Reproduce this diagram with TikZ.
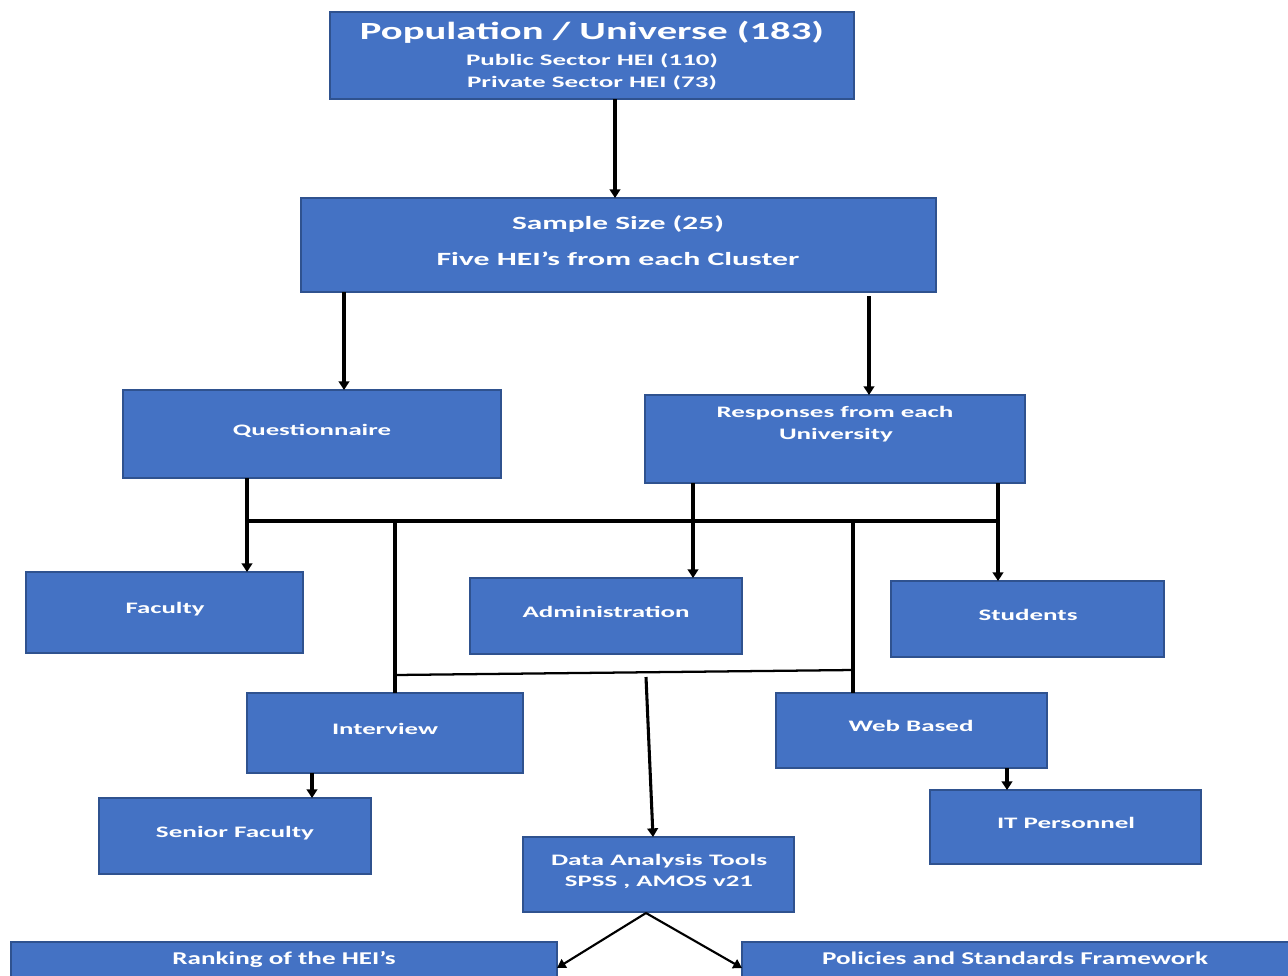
\documentclass[tikz,border=0pt]{standalone}
\usepackage{fontspec}
\setmainfont{Carlito}
\usepackage{graphicx}
\usetikzlibrary{arrows.meta,calc}
\definecolor{boxblue}{HTML}{4472C4}
\definecolor{boxedge}{HTML}{2F528F}
\newdimen\px \px=0.75pt
\newcommand\W[2]{\resizebox{#1\px}{\height}{#2}}
\newcommand\bx[5]{\node[box,minimum width={(#4-#2)*0.75pt},minimum height={(#5-#3)*0.75pt}] (#1) at ({(#2+#4)/2},{(#3+#5)/2}) {};}
\tikzset{
  box/.style={draw=boxedge, fill=boxblue, line width=0.8pt, inner sep=0pt, outer sep=0pt},
  lbl/.style={text=white, inner sep=0pt, outer sep=0pt, text height=0.64em, text depth=0pt, yshift=-1.5pt, font=\bfseries\fontsize{#1}{#1}\selectfont},
  arr/.style={line width=2.3pt, -{Triangle[width=8pt,length=6.5pt]}},
  thinarr/.style={line width=1.6pt, -{Triangle[width=7.5pt,length=6.5pt]}},
  bus/.style={line width=2.5pt},
  slant/.style={line width=1.7pt}
}
\begin{document}
\begin{tikzpicture}[x=0.75pt,y=-0.75pt]
\clip (0,0) rectangle (1288,975);
\useasboundingbox (0,0) rectangle (1288,975);
% boxes
\bx{pop}{330}{12}{854}{99}
\bx{samp}{301}{198}{936}{292}
\bx{q}{123}{390}{501}{478}
\bx{resp}{645}{395}{1025}{483}
\bx{fac}{26}{572}{303}{653}
\bx{adm}{470}{578}{742}{654}
\bx{stu}{891}{581}{1164}{657}
\bx{int}{247}{693}{523}{773}
\bx{web}{776}{693}{1047}{768}
\bx{sen}{99}{798}{371}{874}
\bx{itp}{930}{790}{1201}{864}
\bx{da}{523}{837}{794}{912}
\bx{rank}{11}{942}{557}{1000}
\bx{pol}{742}{942}{1300}{1000}
% texts
\node[lbl=18.5] (t1) at (592,33) {\W{464}{Population / Universe (183)}};
\node[lbl=12] (t2) at (592,59.5) {\W{252}{Public Sector HEI (110)}};
\node[lbl=12] (t3) at (592,81.5) {\W{250}{Private Sector HEI (73)}};
\node[lbl=14] (t4) at (618,223.5) {\W{212}{Sample Size (25)}};
\node[lbl=14] (t5) at (618,259.5) {\W{363}{Five HEI’s from each Cluster}};
\node[lbl=12] (t6) at (312,429.5) {\W{158}{Questionnaire}};
\node[lbl=12] (t7) at (835,411.5) {\W{237}{Responses from each}};
\node[lbl=12] (t8) at (836,433.5) {\W{114}{University}};
\node[lbl=12] (t9) at (165,607.5) {\W{79}{Faculty}};
\node[lbl=12] (t10) at (606,611.5) {\W{167}{Administration}};
\node[lbl=12] (t11) at (1028,614.5) {\W{99}{Students}};
\node[lbl=12] (t12) at (385,728.5) {\W{106}{Interview}};
\node[lbl=12] (t13) at (911,725.5) {\W{125}{Web Based}};
\node[lbl=12] (t14) at (235,831.5) {\W{158}{Senior Faculty}};
\node[lbl=12] (t15) at (1066,822.5) {\W{138}{IT Personnel}};
\node[lbl=12] (t16) at (659,859.5) {\W{216}{Data Analysis Tools}};
\node[lbl=12] (t17) at (659,880.5) {\W{188}{SPSS , AMOS v21}};
\node[lbl=13.5] (t18) at (284,958.5) {\W{223}{Ranking of the HEI’s}};
\node[lbl=13.5] (t19) at (1015,958.5) {\W{386}{Policies and Standards Framework}};
% junction coordinates
\coordinate (x1) at (615,0);
\coordinate (x2) at (344,0);
\coordinate (x3) at (869,0);
\coordinate (jQ) at (247,521);
\coordinate (jI) at (395,521);
\coordinate (jA) at (693,521);
\coordinate (jW) at (853,521);
\coordinate (jS) at (998,521);
\coordinate (sI) at (395,675);
\coordinate (sW) at (853,670);
\coordinate (m) at (646,677);
\coordinate (dtop) at (653,837);
\coordinate (xI) at (312,0);
\coordinate (xW) at (1007,0);
\coordinate (apex) at (646,913);
\coordinate (rE) at (557,968);
\coordinate (pW) at (742,968);
% connectors
\draw[arr] (x1 |- pop.south) -- (x1 |- samp.north);
\draw[arr] (x2 |- samp.south) -- (x2 |- q.north);
\draw[arr] ($(x3 |- samp.south)+(0,4)$) -- (x3 |- resp.north);
\draw[bus] (jQ) -- (jS);
\draw[arr] (jQ |- q.south) -- (jQ |- fac.north);
\draw[arr] (jA |- resp.south) -- (jA |- adm.north);
\draw[arr] (jS |- resp.south) -- (jS |- stu.north);
\draw[bus] (jI) -- (jI |- int.north);
\draw[bus] (jW) -- (jW |- web.north);
\draw[slant] (sI) -- (sW);
\draw[arr] (m) -- (dtop);
\draw[arr] (xI |- int.south) -- (xI |- sen.north);
\draw[arr] (xW |- web.south) -- (xW |- itp.north);
\draw[thinarr] (apex) -- (rE);
\draw[thinarr] (apex) -- (pW);
\end{tikzpicture}
\end{document}
